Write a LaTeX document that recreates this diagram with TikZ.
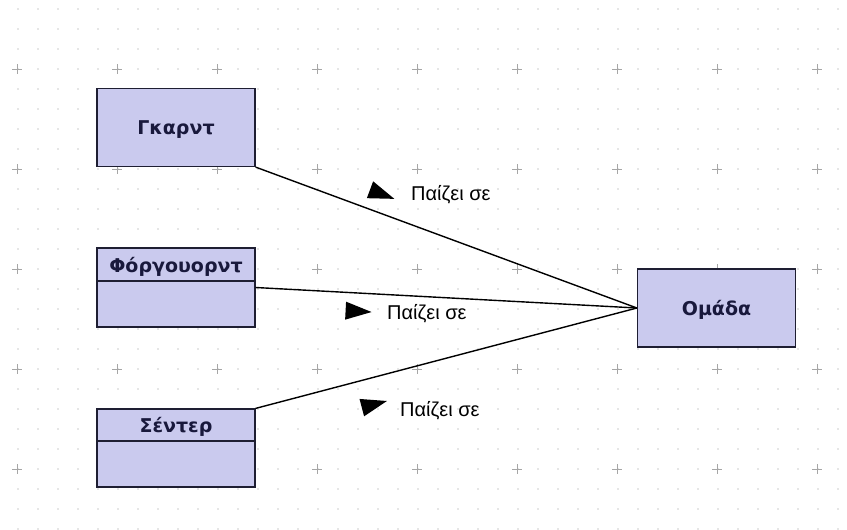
\documentclass[tikz,border=0pt]{standalone}
\usepackage{fontspec}
\setmainfont{Liberation Sans}
\newfontfamily\boxfont{DejaVu Sans}
\usetikzlibrary{shapes.geometric}
\definecolor{boxfill}{RGB}{202,202,238}
\definecolor{boxline}{RGB}{30,30,50}
\definecolor{boxtext}{RGB}{25,25,60}
\definecolor{gridgray}{RGB}{205,205,205}
\tikzset{cls/.style={shape=rectangle, draw=boxline, fill=boxfill, line width=1.2pt,
    minimum width=158pt, minimum height=78pt, inner sep=0pt, text depth=0pt,
    font=\boxfont\bfseries\fontsize{19}{21}\selectfont, text=boxtext}}
\tikzset{head/.style={cls, minimum height=33pt}}
\tikzset{tri/.style={shape=isosceles triangle, isosceles triangle stretches, fill=black,
    inner sep=0pt, minimum width=18pt, minimum height=26pt}}
\tikzset{lbl/.style={anchor=west, inner sep=0pt, font=\fontsize{20}{22}\selectfont}}
\tikzset{assoc/.style={draw=black, line width=1.4pt}}

\begin{document}
\begin{tikzpicture}[x=1pt, y=-1pt]
    \useasboundingbox (0,0) rectangle (847,530);
    \fill[white] (0,0) rectangle (847,530);
    % background grid
    \foreach \x in {18,38,...,838}
      \foreach \y in {9,29,...,529}
        \fill[gridgray] (\x,\y) circle (0.9pt);
    \foreach \x in {17,117,...,817}
      \foreach \y in {69,169,...,469}
        \draw[gray!70, line width=0.8pt] (\x-5,\y) -- (\x+5,\y) (\x,\y-5) -- (\x,\y+5);

    \node[cls] (g) at (176,127.5) {Γκαρντ};
    \node[cls, minimum height=79pt] (f) at (176,287.5) {};
    \node[head, anchor=north] (fh) at (f.north) {Φόργουορντ};
    \node[cls] (s) at (176,448) {};
    \node[head, minimum height=32pt, anchor=north] (sh) at (s.north) {Σέντερ};
    \node[cls] (o) at (716.5,308) {Ομάδα};

    \path[assoc] (g.south east) -- (o.west);
    \path[assoc] (f.east) -- (o.west);
    \path[assoc] (s.north east) -- (o.west);

    \node[tri, rotate=-20.5] (t1) at (376,192) {};
    \node[tri, rotate=-3] (t2) at (352,311) {};
    \node[tri, rotate=14.8] (t3) at (368,406) {};
    \node[lbl] (l1) at (411,195) {Παίζει σε};
    \node[lbl] (l2) at (387,314) {Παίζει σε};
    \node[lbl] (l3) at (400,411) {Παίζει σε};
\end{tikzpicture}
\end{document}
